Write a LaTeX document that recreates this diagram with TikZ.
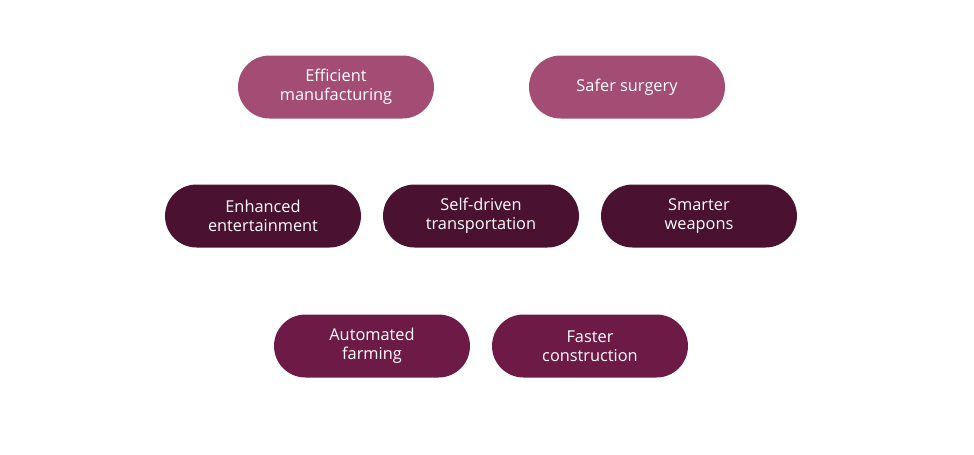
\documentclass[tikz,border=0pt]{standalone}
\usepackage{fontspec}
\setmainfont{Open Sans}
\definecolor{pinkc}{HTML}{A34C74}
\definecolor{darkc}{HTML}{4B1131}
\definecolor{winec}{HTML}{6E1A47}
\tikzset{pill/.style={rounded corners=0.63cm, minimum width=3.92cm, minimum height=1.26cm, text=white, align=center, font=\fontsize{9.3}{11}\selectfont, inner sep=0pt}}
\begin{document}
\begin{tikzpicture}[x=0.02cm,y=-0.02cm]
\useasboundingbox (0,0) rectangle (974,454);
\node [pill, fill=pinkc] (manu) at (336,87) {Efficient\\manufacturing};
\node [pill, fill=pinkc] (surg) at (627,87) {Safer surgery};
\node [pill, fill=darkc] (ente) at (263,216) {Enhanced\\entertainment};
\node [pill, fill=darkc] (tran) at (481,216) {Self-driven\\transportation};
\node [pill, fill=darkc] (weap) at (699,216) {Smarter\\weapons};
\node [pill, fill=winec] (farm) at (372,346) {Automated\\farming};
\node [pill, fill=winec] (cons) at (590,346) {Faster\\construction};
\end{tikzpicture}
\end{document}
